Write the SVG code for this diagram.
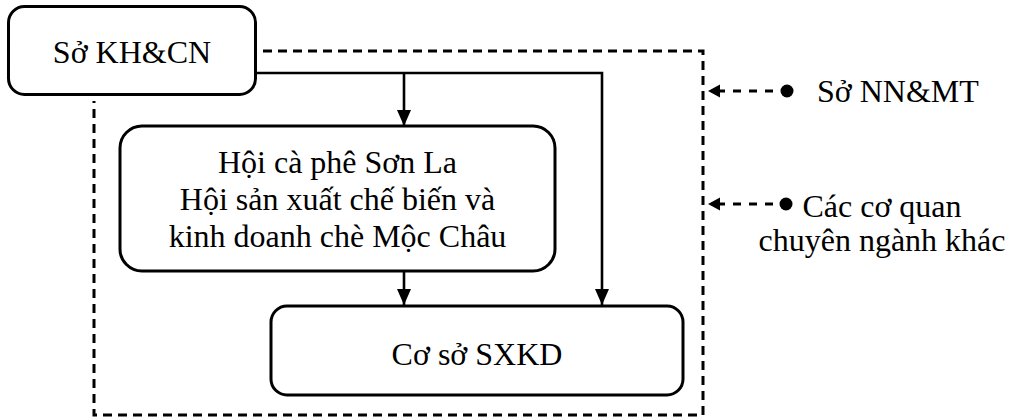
<svg xmlns="http://www.w3.org/2000/svg" width="1011" height="419" viewBox="0 0 1011 419">
<style>
.box{fill:#fff;stroke:#000;stroke-width:3}
.t{font-family:"Liberation Serif","Times New Roman",serif;font-size:32px;fill:#000}
.c{text-anchor:middle}
.dash{fill:none;stroke:#000;stroke-width:3;stroke-dasharray:9,6}
.solid{fill:none;stroke:#000;stroke-width:2.6}
.sdash{fill:none;stroke:#000;stroke-width:2.8;stroke-dasharray:8,8}
</style>
<defs>
<marker id="arr" viewBox="0 0 16 14" refX="16" refY="7" markerWidth="16" markerHeight="14" markerUnits="userSpaceOnUse" orient="auto">
<path d="M0,0 L16,7 L0,14 Z" fill="#000"/>
</marker>
</defs>
<g id="connectors">
<path class="dash" d="M263,51 H703 V415 H94 V101"/>
<path class="solid" d="M256,73 H602 V305" marker-end="url(#arr)"/>
<path class="solid" d="M404,73 V126" marker-end="url(#arr)"/>
<path class="solid" d="M404,271 V305" marker-end="url(#arr)"/>
<path class="sdash" d="M717,91 H781"/>
<path d="M708,91 L720,84.5 L720,97.5 Z" fill="#000"/>
<circle cx="787" cy="91" r="6.5" fill="#000"/>
<path class="sdash" d="M717,204 H780"/>
<path d="M708,204 L720,197.5 L720,210.5 Z" fill="#000"/>
<circle cx="786" cy="204" r="6.5" fill="#000"/>
</g>
<g id="so-khcn">
<rect class="box" x="8.5" y="6.5" width="247" height="88" rx="16"/>
<text class="t c" x="132" y="63">Sở KH&amp;CN</text>
</g>
<g id="hoi">
<rect class="box" x="120" y="126" width="435" height="145" rx="22"/>
<text class="t c" x="337.5" y="173">Hội cà phê Sơn La</text>
<text class="t c" x="337.5" y="210">Hội sản xuất chế biến và</text>
<text class="t c" x="337.5" y="247">kinh doanh chè Mộc Châu</text>
</g>
<g id="co-so">
<rect class="box" x="271" y="306" width="412" height="89" rx="16"/>
<text class="t c" x="477" y="365">Cơ sở SXKD</text>
</g>
<g id="so-nnmt">
<text class="t" x="817" y="102">Sở NN&amp;MT</text>
</g>
<g id="co-quan">
<text class="t c" x="882" y="217">Các cơ quan</text>
<text class="t c" x="882" y="251">chuyên ngành khác</text>
</g>
</svg>
